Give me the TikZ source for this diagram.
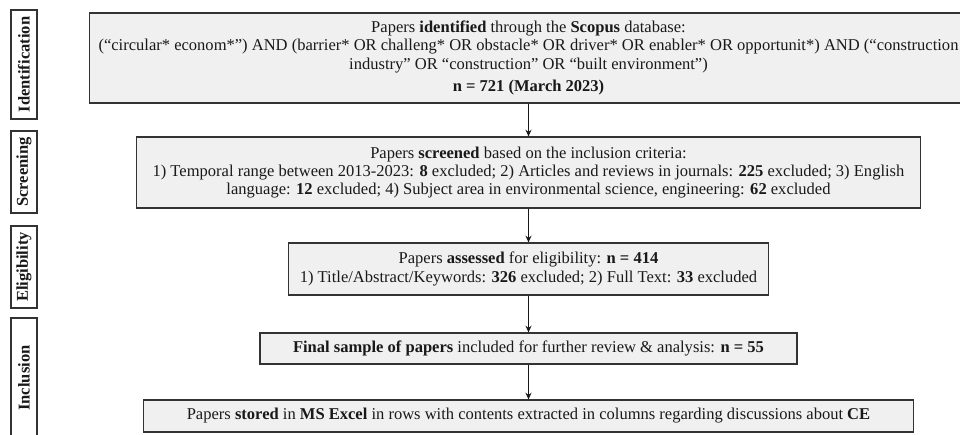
\documentclass[tikz,border=0pt]{standalone}
\usepackage{fontspec}
\setmainfont{Liberation Serif}
\usetikzlibrary{arrows.meta}

\begin{document}
\begin{tikzpicture}[x=0.75pt,y=0.75pt,yscale=-1,xscale=1,
  flowbox/.style={draw={rgb,255:red,51;green,51;blue,51},fill={rgb,255:red,240;green,240;blue,240},line width=0.9pt,align=center,inner sep=0pt,text={rgb,255:red,25;green,25;blue,25},font=\fontsize{12.4}{13.6}\selectfont},
  phasebox/.style={draw={rgb,255:red,51;green,51;blue,51},fill=white,line width=0.9pt,rotate=90,inner sep=0pt,minimum height=19.5pt,text={rgb,255:red,25;green,25;blue,25},font=\fontsize{12.4}{13.6}\selectfont\bfseries},
  flowarrow/.style={-{Stealth[length=5pt,width=4.5pt]},line width=0.75pt,color={rgb,255:red,25;green,25;blue,25}}]
\useasboundingbox (0,0) rectangle (960,435);

% Phase labels
\node [phasebox,minimum width=81.75pt] (phaseid) at (24,64.5) {Identification};
\node [phasebox,minimum width=61.5pt] (phasescr) at (24,172) {Screening};
\node [phasebox,minimum width=61.5pt] (phaseeli) at (24,267) {Eligibility};
\node [phasebox,minimum width=90pt] (phaseinc) at (24,378) {Inclusion};

% Text Node
\node [flowbox,minimum width=658.5pt,minimum height=67.5pt] (identified) at (528.5,58) {Papers \textbf{identified} through the \textbf{Scopus} database:\\
(“circular* econom*”) AND (barrier* OR challeng* OR obstacle* OR driver* OR enabler* OR opportunit*) AND (“construction\\
industry” OR “construction” OR “built environment”)\\[3pt]
\textbf{n = 721 (March 2023)}};
% Text Node
\node [flowbox,minimum width=588pt,minimum height=53.25pt] (screened) at (528.5,172.5) {Papers \textbf{screened} based on the inclusion criteria:\\
1) Temporal range between 2013-2023: \textbf{8} excluded; 2) Articles and reviews in journals: \textbf{225} excluded; 3) English\\
language: \textbf{12} excluded; 4) Subject area in environmental science, engineering: \textbf{62} excluded};
% Text Node
\node [flowbox,minimum width=360pt,minimum height=39pt] (assessed) at (528.5,269) {Papers \textbf{assessed} for eligibility: \textbf{n = 414}\\
1) Title/Abstract/Keywords: \textbf{326} excluded; 2) Full Text: \textbf{33} excluded};
% Text Node
\node [flowbox,minimum width=402.75pt,minimum height=23.25pt] (sample) at (528.5,348.5) {\textbf{Final sample of papers} included for further review \& analysis: \textbf{n = 55}};
% Text Node
\node [flowbox,minimum width=577.5pt,minimum height=24pt] (stored) at (528.5,416) {Papers \textbf{stored} in \textbf{MS Excel} in rows with contents extracted in columns regarding discussions about \textbf{CE}};

%Straight Lines
\draw [flowarrow] (identified) -- (screened);
\draw [flowarrow] (screened) -- (assessed);
\draw [flowarrow] (assessed) -- (sample);
\draw [flowarrow] (sample) -- (stored);

\end{tikzpicture}
\end{document}
